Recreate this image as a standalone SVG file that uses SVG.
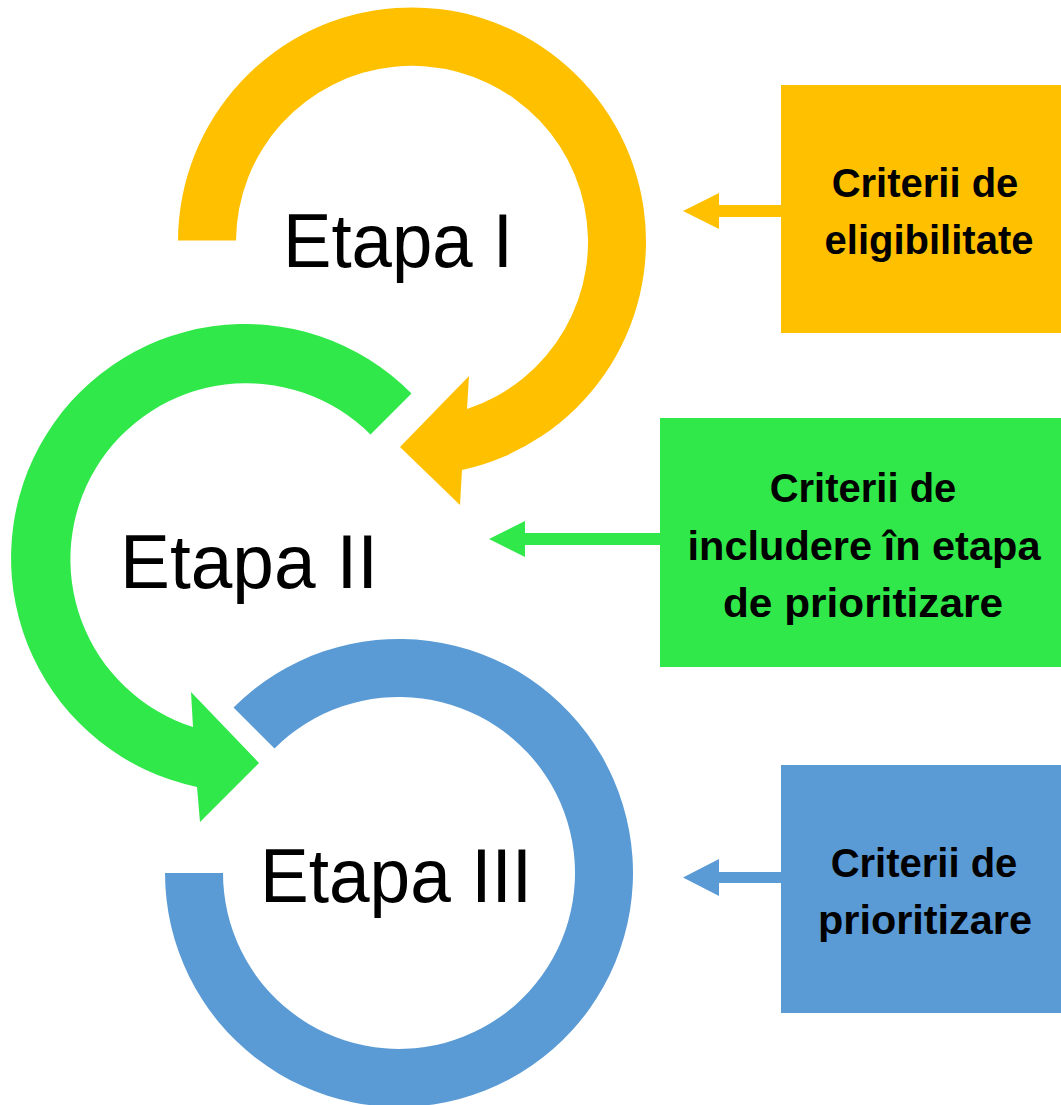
<svg xmlns="http://www.w3.org/2000/svg" width="1061" height="1105" viewBox="0 0 1061 1105">
<style>
.stage{font-family:"Liberation Sans",Arial,sans-serif;font-size:76px;fill:#000}
.lbl{font-family:"Liberation Sans",Arial,sans-serif;font-weight:bold;font-size:40px;fill:#000;text-anchor:middle}
.y{fill:#FFC000}
.g{fill:#30E84A}
.b{fill:#5B9BD5}
</style>
<rect width="1061" height="1105" fill="#fff"/>
<g id="etapa1">
<path class="y" d="M178,240.5 A234,234 0 1 1 462,470 L460,505 L400,447 L469,376 L467,409 A176,176 0 1 0 236,240.5 Z"/>
<text class="stage" x="283" y="267" textLength="230" lengthAdjust="spacingAndGlyphs">Etapa I</text>
</g>
<g id="etapa2">
<path class="g" d="M411.5,393.5 A234,234 0 1 0 197,787 L200,822 L259,763 L191,692 L193,727 A176,176 0 1 1 370.5,434.5 Z"/>
<text class="stage" x="120" y="588" textLength="258" lengthAdjust="spacingAndGlyphs">Etapa II</text>
</g>
<g id="etapa3">
<path class="b" d="M233.5,707.5 A234,234 0 1 1 165,873 L223,873 A176,176 0 1 0 274.5,748.5 Z"/>
<text class="stage" x="260" y="902" textLength="272" lengthAdjust="spacingAndGlyphs">Etapa III</text>
</g>
<g id="box1">
<rect class="y" x="781" y="85" width="280" height="248"/>
<text class="lbl" x="925" y="197">Criterii de</text>
<text class="lbl" x="929" y="254">eligibilitate</text>
</g>
<g id="box2">
<rect class="g" x="660" y="418" width="401" height="249"/>
<text class="lbl" x="863" y="502">Criterii de</text>
<text class="lbl" x="864" y="560" textLength="353" lengthAdjust="spacingAndGlyphs">includere în etapa</text>
<text class="lbl" x="863" y="617" textLength="280" lengthAdjust="spacingAndGlyphs">de prioritizare</text>
</g>
<g id="box3">
<rect class="b" x="781" y="765" width="280" height="248"/>
<text class="lbl" x="924" y="877">Criterii de</text>
<text class="lbl" x="925" y="934" textLength="214" lengthAdjust="spacingAndGlyphs">prioritizare</text>
</g>
<g id="connectors">
<polygon class="y" points="683,211 719,193 719,205 782,205 782,217 719,217 719,229"/>
<polygon class="g" points="489,539 525,521 525,533 661,533 661,545 525,545 525,557"/>
<polygon class="b" points="683,877.5 719,859 719,872 782,872 782,883 719,883 719,896"/>
</g>
</svg>
